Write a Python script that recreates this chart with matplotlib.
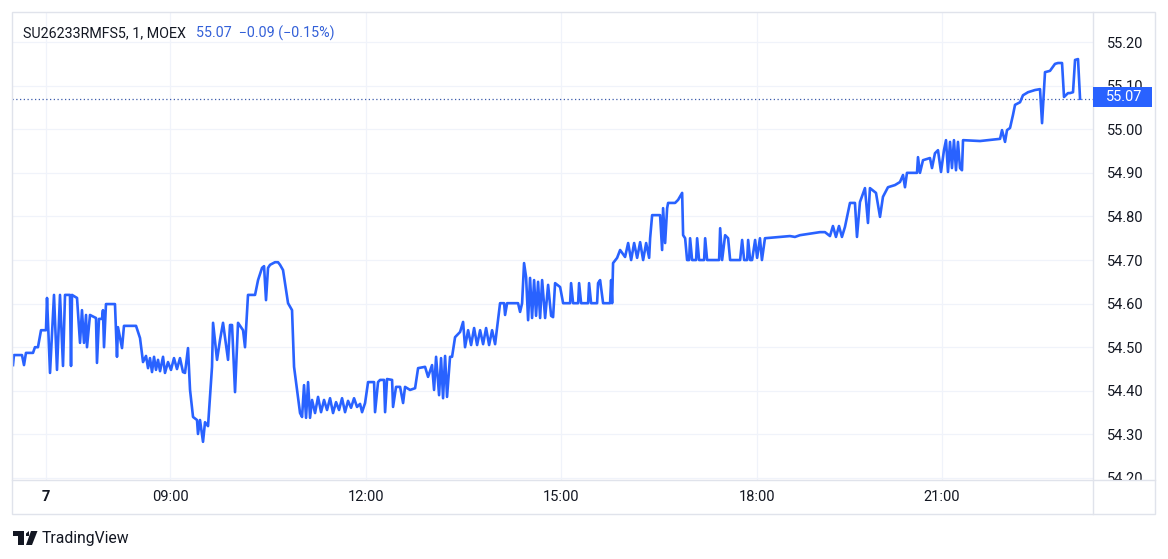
import numpy as np
import matplotlib
matplotlib.use("Agg")
import matplotlib.pyplot as plt
from matplotlib.patches import Rectangle, Polygon
from matplotlib.lines import Line2D

plt.rcParams['font.family'] = ['Roboto', 'DejaVu Sans']

# 1-minute closes, time in hours of the day, price
time_h = [6.592, 6.607, 6.730, 6.761, 6.791, 6.899, 6.929, 6.975, 7.022, 7.098,
          7.114, 7.160, 7.221, 7.267, 7.313, 7.359, 7.390, 7.466, 7.482, 7.497,
          7.574, 7.620, 7.650, 7.681, 7.712, 7.727, 7.773, 7.865, 7.880, 7.911,
          7.957, 7.972, 7.988, 8.018, 8.156, 8.187, 8.202, 8.264, 8.294, 8.479,
          8.540, 8.586, 8.632, 8.663, 8.693, 8.724, 8.755, 8.785, 8.816, 8.847,
          8.893, 8.923, 8.969, 9.015, 9.061, 9.107, 9.153, 9.199, 9.230, 9.276,
          9.307, 9.353, 9.414, 9.429, 9.460, 9.506, 9.537, 9.583, 9.644, 9.660,
          9.721, 9.767, 9.813, 9.890, 9.920, 9.951, 9.997, 10.043, 10.120, 10.150,
          10.196, 10.304, 10.350, 10.411, 10.442, 10.472, 10.503, 10.534, 10.610, 10.656,
          10.687, 10.733, 10.764, 10.810, 10.871, 10.902, 10.948, 10.963, 10.994, 11.025,
          11.055, 11.086, 11.117, 11.147, 11.178, 11.224, 11.270, 11.316, 11.362, 11.408,
          11.454, 11.500, 11.546, 11.592, 11.638, 11.684, 11.730, 11.776, 11.822, 11.868,
          11.914, 11.945, 11.991, 12.037, 12.129, 12.144, 12.190, 12.221, 12.282, 12.298,
          12.328, 12.405, 12.420, 12.466, 12.528, 12.574, 12.604, 12.681, 12.758, 12.804,
          12.911, 12.957, 13.018, 13.049, 13.080, 13.126, 13.156, 13.187, 13.218, 13.248,
          13.294, 13.325, 13.371, 13.448, 13.494, 13.524, 13.571, 13.617, 13.663, 13.709,
          13.755, 13.801, 13.847, 13.893, 13.939, 13.985, 14.015, 14.061, 14.123, 14.138,
          14.169, 14.337, 14.368, 14.399, 14.429, 14.460, 14.491, 14.521, 14.552, 14.583,
          14.613, 14.644, 14.675, 14.706, 14.752, 14.798, 14.844, 14.874, 14.905, 14.982,
          15.028, 15.135, 15.150, 15.181, 15.258, 15.273, 15.304, 15.411, 15.426, 15.457,
          15.549, 15.564, 15.595, 15.641, 15.748, 15.764, 15.779, 15.794, 15.856, 15.902,
          15.978, 16.025, 16.071, 16.117, 16.163, 16.209, 16.255, 16.301, 16.347, 16.362,
          16.393, 16.515, 16.546, 16.561, 16.592, 16.623, 16.638, 16.745, 16.791, 16.853,
          16.868, 16.899, 16.929, 16.960, 16.975, 17.006, 17.067, 17.083, 17.113, 17.190,
          17.206, 17.236, 17.420, 17.436, 17.466, 17.512, 17.558, 17.589, 17.742, 17.773,
          17.804, 17.850, 17.865, 17.896, 17.926, 17.972, 18.003, 18.049, 18.081, 18.130,
          18.373, 18.535, 18.616, 18.697, 19.022, 19.103, 19.184, 19.232, 19.281, 19.330,
          19.378, 19.427, 19.508, 19.589, 19.622, 19.670, 19.751, 19.800, 19.832, 19.930,
          19.995, 20.043, 20.124, 20.238, 20.319, 20.368, 20.400, 20.432, 20.595, 20.611,
          20.643, 20.692, 20.805, 20.838, 20.886, 20.935, 20.984, 21.032, 21.065, 21.097,
          21.130, 21.162, 21.194, 21.227, 21.259, 21.292, 21.324, 21.341, 21.616, 21.941,
          21.973, 22.022, 22.054, 22.103, 22.151, 22.184, 22.265, 22.313, 22.395, 22.508,
          22.589, 22.622, 22.670, 22.751, 22.832, 22.881, 22.946, 22.978, 23.043, 23.076,
          23.124, 23.157, 23.205, 23.238]

price = [54.459, 54.482, 54.482, 54.459, 54.487, 54.487, 54.500, 54.500, 54.539, 54.539,
         54.613, 54.441, 54.620, 54.448, 54.620, 54.457, 54.620, 54.620, 54.457, 54.620,
         54.613, 54.510, 54.585, 54.510, 54.574, 54.500, 54.574, 54.567, 54.464, 54.565,
         54.565, 54.585, 54.500, 54.599, 54.599, 54.478, 54.546, 54.498, 54.549, 54.549,
         54.521, 54.466, 54.480, 54.452, 54.475, 54.443, 54.478, 54.448, 54.471, 54.445,
         54.478, 54.441, 54.466, 54.448, 54.475, 54.450, 54.475, 54.443, 54.441, 54.498,
         54.402, 54.340, 54.333, 54.301, 54.333, 54.283, 54.328, 54.319, 54.455, 54.556,
         54.471, 54.517, 54.556, 54.471, 54.551, 54.551, 54.397, 54.556, 54.539, 54.500,
         54.620, 54.620, 54.654, 54.682, 54.686, 54.608, 54.682, 54.689, 54.695, 54.695,
         54.689, 54.677, 54.647, 54.601, 54.585, 54.455, 54.402, 54.386, 54.349, 54.340,
         54.413, 54.338, 54.420, 54.338, 54.379, 54.349, 54.386, 54.351, 54.379, 54.356,
         54.383, 54.349, 54.374, 54.356, 54.383, 54.351, 54.377, 54.361, 54.383, 54.363,
         54.370, 54.351, 54.372, 54.420, 54.420, 54.351, 54.420, 54.425, 54.425, 54.351,
         54.427, 54.425, 54.363, 54.409, 54.409, 54.372, 54.409, 54.402, 54.406, 54.452,
         54.455, 54.432, 54.459, 54.402, 54.478, 54.390, 54.475, 54.383, 54.480, 54.386,
         54.478, 54.478, 54.523, 54.535, 54.558, 54.500, 54.539, 54.505, 54.544, 54.505,
         54.539, 54.507, 54.544, 54.505, 54.539, 54.507, 54.544, 54.601, 54.601, 54.574,
         54.601, 54.601, 54.581, 54.601, 54.693, 54.661, 54.562, 54.659, 54.567, 54.654,
         54.572, 54.650, 54.567, 54.654, 54.567, 54.643, 54.572, 54.569, 54.647, 54.638,
         54.601, 54.601, 54.647, 54.601, 54.601, 54.647, 54.601, 54.601, 54.647, 54.601,
         54.601, 54.647, 54.654, 54.601, 54.601, 54.654, 54.601, 54.693, 54.705, 54.723,
         54.707, 54.739, 54.700, 54.739, 54.705, 54.741, 54.700, 54.739, 54.705, 54.750,
         54.803, 54.803, 54.723, 54.819, 54.739, 54.819, 54.831, 54.831, 54.838, 54.854,
         54.757, 54.750, 54.700, 54.700, 54.750, 54.700, 54.700, 54.750, 54.700, 54.700,
         54.750, 54.700, 54.700, 54.773, 54.700, 54.757, 54.750, 54.700, 54.700, 54.746,
         54.700, 54.700, 54.746, 54.700, 54.700, 54.746, 54.705, 54.750, 54.700, 54.750,
         54.753, 54.755, 54.753, 54.757, 54.764, 54.764, 54.755, 54.778, 54.753, 54.778,
         54.753, 54.776, 54.831, 54.831, 54.753, 54.833, 54.865, 54.785, 54.865, 54.854,
         54.799, 54.845, 54.867, 54.872, 54.879, 54.895, 54.867, 54.900, 54.900, 54.936,
         54.900, 54.929, 54.934, 54.911, 54.945, 54.952, 54.902, 54.952, 54.975, 54.902,
         54.971, 54.911, 54.975, 54.906, 54.971, 54.911, 54.906, 54.975, 54.973, 54.978,
         54.998, 54.971, 54.998, 55.003, 55.033, 55.056, 55.062, 55.078, 55.085, 55.090,
         55.092, 55.014, 55.131, 55.134, 55.150, 55.152, 55.152, 55.074, 55.083, 55.083,
         55.085, 55.159, 55.161, 55.070]

symbol = "SU26233RMFS5, 1, MOEX"
last_price = 55.07
change_txt = "55.07  \u22120.09 (\u22120.15%)"
tick_hours = [7.1, 9, 12, 15, 18, 21]
tick_labels = ["7", "09:00", "12:00", "15:00", "18:00", "21:00"]
price_ticks = [54.2, 54.3, 54.4, 54.5, 54.6, 54.7, 54.8, 54.9, 55.0, 55.1, 55.2]

BLUE = "#2962ff"
TXT = "#131722"
BORDER = "#e0e3eb"
GRID = "#f0f3fa"

W, H = 1168, 559
fig = plt.figure(figsize=(W / 100, H / 100), dpi=100)
fig.patch.set_facecolor("white")


def fx(px):
    return px / W


def fy(py):
    return 1 - py / H


# main pane (12..1093 x 12..480 px)
ax = fig.add_axes([fx(12), fy(480), fx(1093 - 12), (480 - 12) / H])

# bar-based time axis is a bit tighter after 18:00
def fwd(t):
    return np.interp(t, [0, 18, 30], [0, 18, 18 + 12 * 0.9459])


def inv(u):
    return np.interp(u, [0, 18, 18 + 12 * 0.9459], [0, 18, 30])


ax.set_xscale("function", functions=(fwd, inv))
ax.plot(time_h, price, color=BLUE, lw=1.9, solid_joinstyle="round", zorder=3)
ax.axhline(last_price, color="#3b5bab", lw=0.9, ls=(0, (1, 2)), zorder=2)

ax.set_xlim(6.577, 23.448)
ax.set_ylim(54.1954, 55.269)
ax.set_xticks(tick_hours)
ax.set_xticklabels(tick_labels)
ax.set_yticks(price_ticks)
ax.set_yticklabels(["%.2f" % p for p in price_ticks])
ax.yaxis.tick_right()
ax.tick_params(axis="y", length=0, pad=10, labelsize=10.5, labelcolor=TXT)
ax.tick_params(axis="x", length=0, pad=7, labelsize=10.5, labelcolor=TXT)
ax.get_xticklabels()[0].set_fontweight("bold")
ax.grid(True, color=GRID, lw=0.9)
for s in ax.spines.values():
    s.set_visible(False)

# hide the part of the price scale that runs below the pane
fig.add_artist(Rectangle((fx(1094), fy(514)), fx(61), (514 - 481) / H,
                         transform=fig.transFigure, facecolor="white",
                         edgecolor="none", zorder=5))

# frame lines
fig.add_artist(Rectangle((fx(12), fy(514)), fx(1155 - 12), (514 - 12) / H,
                         transform=fig.transFigure, facecolor="none",
                         edgecolor=BORDER, lw=1, zorder=6))
fig.add_artist(Line2D([fx(1093), fx(1093)], [fy(12), fy(514)],
                      transform=fig.transFigure, color=BORDER, lw=1, zorder=6))
fig.add_artist(Line2D([fx(12), fx(1155)], [fy(480), fy(480)],
                      transform=fig.transFigure, color=BORDER, lw=1, zorder=6))

# last price tag
fig.add_artist(Rectangle((fx(1093), fy(107)), fx(59), 20 / H,
                         transform=fig.transFigure, facecolor=BLUE,
                         edgecolor="none", zorder=7))
fig.text(fx(1124), fy(97), "%.2f" % last_price, color="white", fontsize=10.5,
         ha="center", va="center", zorder=8)

# header
fig.text(fx(23), fy(33), symbol, color=TXT, fontsize=10.3, va="center")
fig.text(fx(196), fy(33), change_txt, color="#3360d8", fontsize=10.3, va="center")

# TradingView logo
fig.add_artist(Rectangle((fx(13), fy(536)), fx(11), 5 / H, transform=fig.transFigure,
                         facecolor=TXT, edgecolor="none"))
fig.add_artist(Rectangle((fx(18), fy(545)), fx(6), 14 / H, transform=fig.transFigure,
                         facecolor=TXT, edgecolor="none"))
fig.add_artist(Polygon([(fx(26), fy(533.5)), (fx(29), fy(531)), (fx(29), fy(536)), (fx(26), fy(536))],
                       transform=fig.transFigure, facecolor=TXT, edgecolor="none"))
fig.add_artist(Polygon([(fx(31), fy(531)), (fx(37.5), fy(531)), (fx(32), fy(545)), (fx(26), fy(545))],
                       transform=fig.transFigure, facecolor=TXT, edgecolor="none"))
fig.text(fx(42), fy(538), "TradingView", color=TXT, fontsize=11.3, va="center")

fig.savefig("out.png", dpi=100, facecolor="white")
